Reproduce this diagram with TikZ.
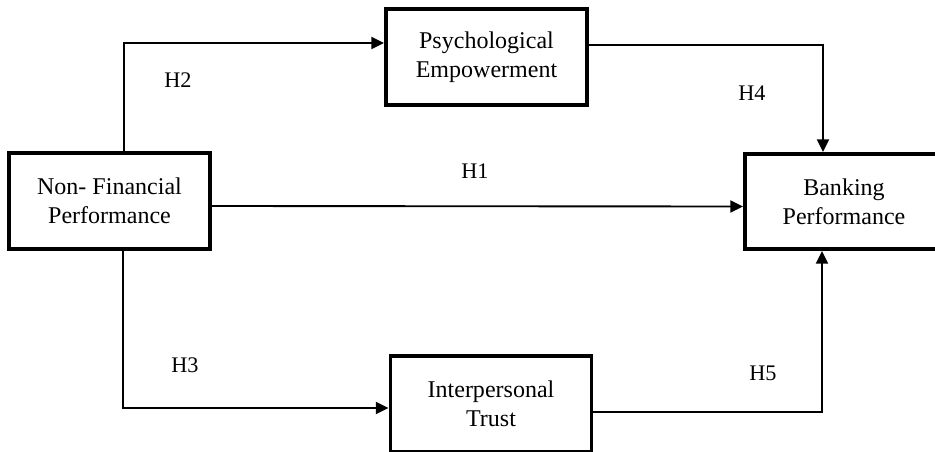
\documentclass[tikz,border=0pt]{standalone}
\usepackage{fontspec}
\setmainfont{Liberation Serif}
\usetikzlibrary{arrows.meta}

\begin{document}
\begin{tikzpicture}[
        varbox/.style={draw, line width=3.4pt, minimum width=6.03cm, minimum height=2.88cm,
            align=center, inner sep=0pt, font=\fontsize{20.5}{24.8}\selectfont},
        link/.style={line width=1.6pt, -{Triangle[length=0.38cm, width=0.36cm]}},
        hyp/.style={font=\fontsize{19}{22}\selectfont}
    ]
                \clip (0,0) rectangle (28.05,-13.53);
                \node [varbox] (NF) at (3.285,-6.03) {Non- Financial\\Performance};
                \node [varbox] (PE) at (14.595,-1.71) {Psychological\\Empowerment};
                \node [varbox] (IT) at (14.73,-12.12) {Interpersonal\\Trust};
                % box runs past the right margin
                \node [varbox, minimum width=6.6cm, minimum height=2.85cm] (BP) at (25.65,-6.045)
                    {Banking\hspace*{0.66cm}\\Performance\hspace*{0.66cm}};
                \draw [link] ([xshift=0.43cm]NF.north) |- ([yshift=0.42cm]PE.west);
                \draw [link] ([yshift=0.36cm]PE.east) -| ([xshift=-0.96cm]BP.north);
                \draw [link] ([yshift=-0.15cm]NF.east) -- ([yshift=-0.15cm]BP.west);
                \draw [link] ([xshift=0.40cm]NF.south) |- ([yshift=-0.12cm]IT.west);
                \draw [link] ([yshift=-0.24cm]IT.east) -| ([xshift=-0.99cm]BP.south);
                \node [hyp] (h1) at (14.25,-5.13) {H1};
                \node [hyp] (h2) at (5.34,-2.40) {H2};
                \node [hyp] (h3) at (5.55,-10.95) {H3};
                \node [hyp] (h4) at (22.56,-2.79) {H4};
                \node [hyp] (h5) at (22.89,-11.19) {H5};
            \end{tikzpicture}
\end{document}
